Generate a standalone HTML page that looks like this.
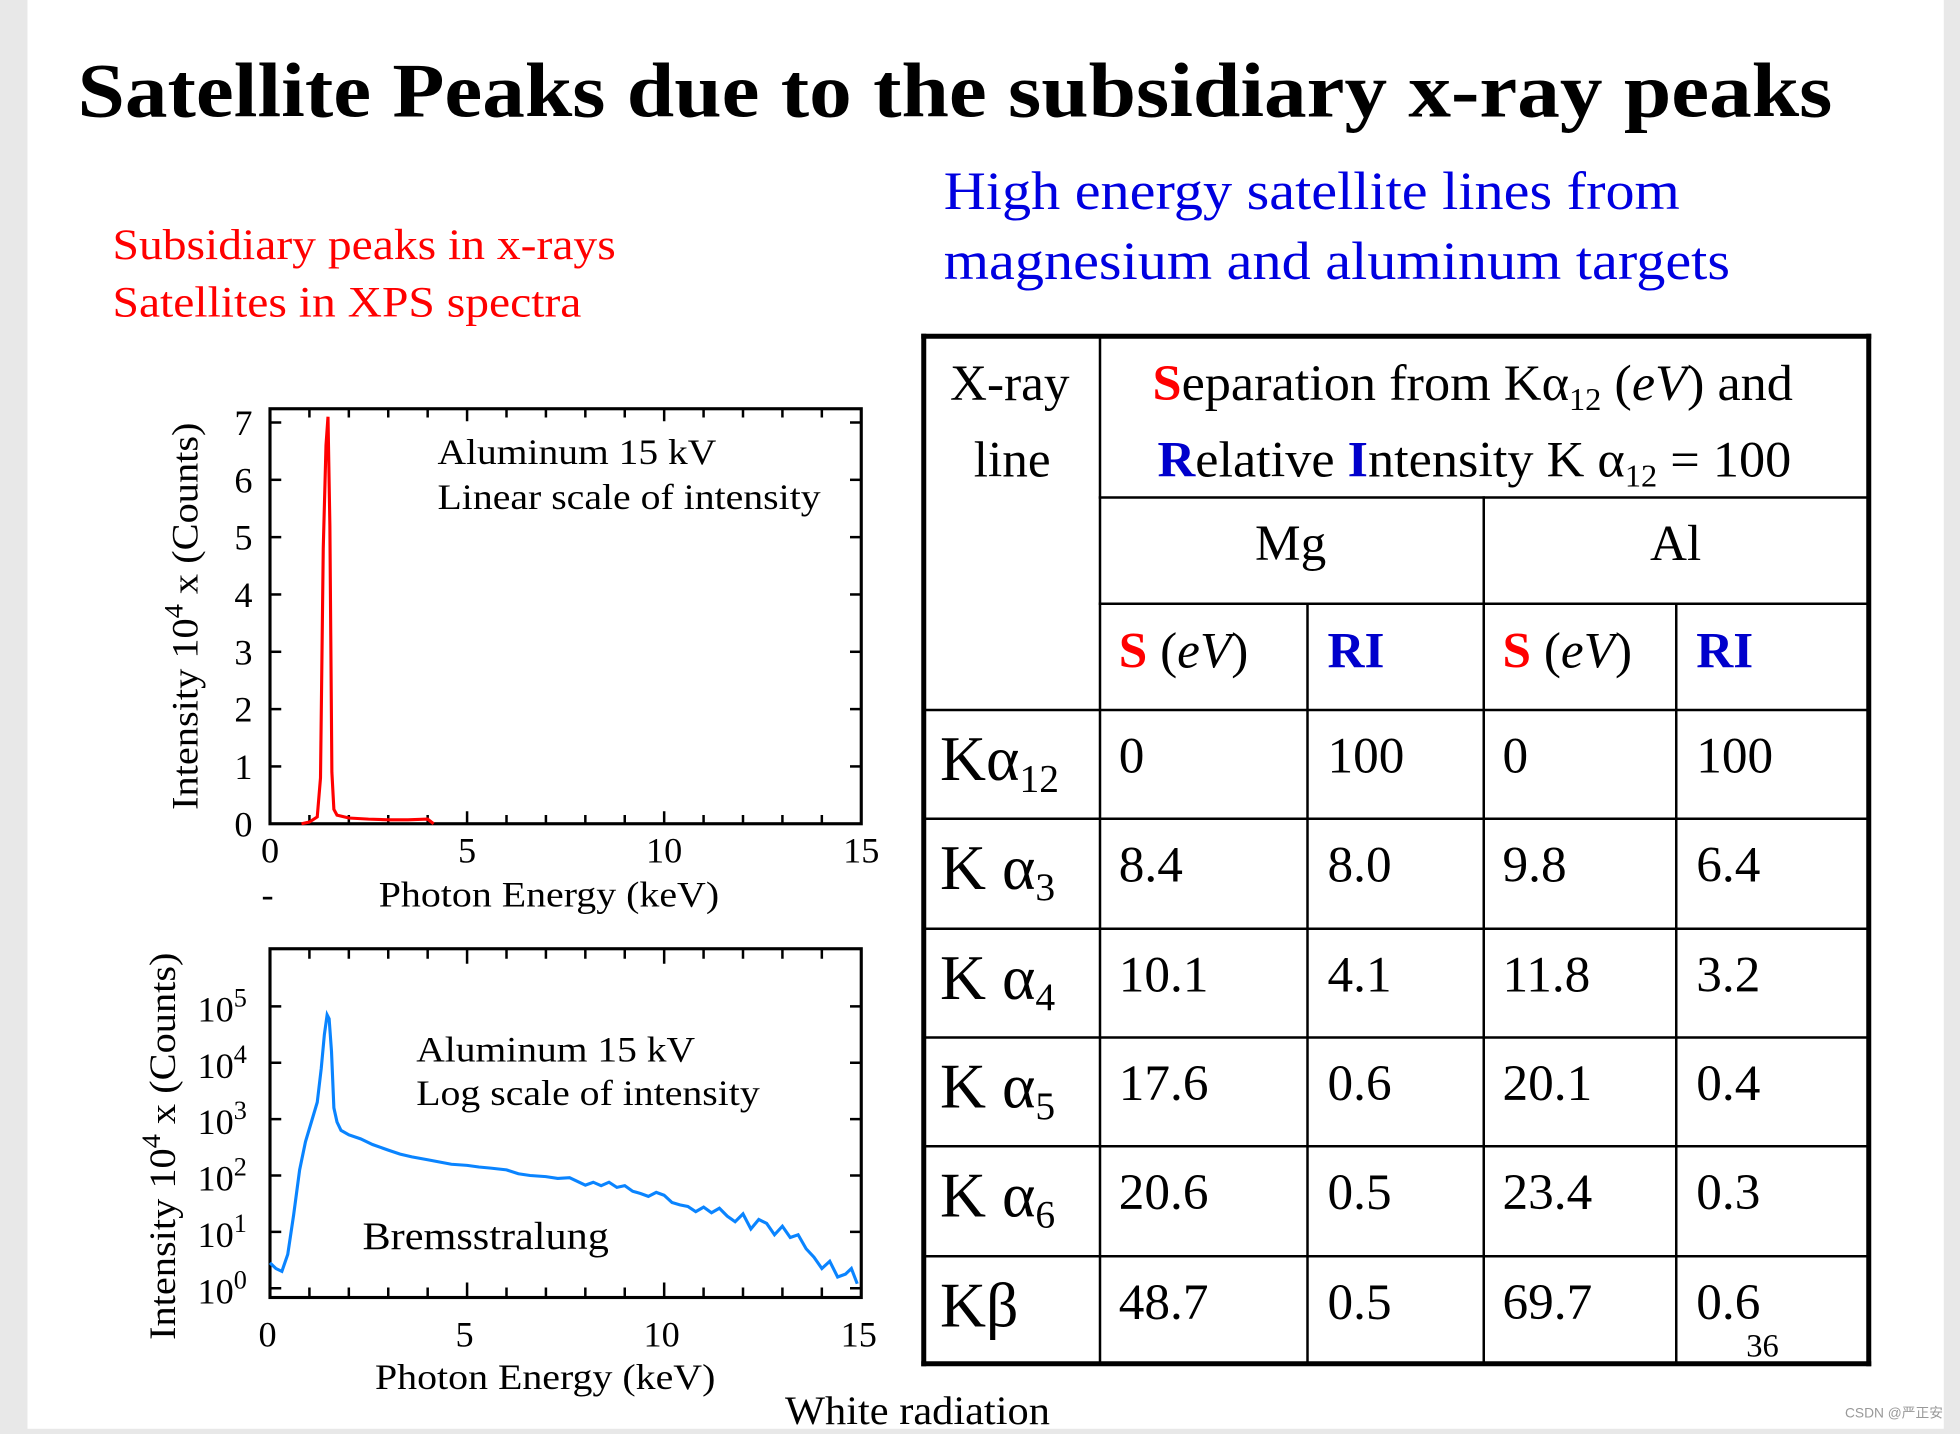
<!DOCTYPE html>
<html><head><meta charset="utf-8">
<style>
html,body{margin:0;padding:0;}
body{width:1960px;height:1429px;overflow:hidden;background:#e8e8e8;}
#stage{position:absolute;left:0;top:0;width:1568px;height:1143px;transform:scale(1.25);transform-origin:0 0;font-family:"Liberation Serif","Noto Serif CJK SC",serif;}
#slide{position:absolute;left:22px;top:0;width:1533px;height:1143px;background:#fff;}
.t{position:absolute;white-space:nowrap;transform-origin:0 0;}
.cell{position:absolute;font-size:41px;color:#000;white-space:nowrap;line-height:48px;}
.hl{position:absolute;background:#000;}
sub{font-size:0.62em;position:relative;top:0.3em;vertical-align:baseline;line-height:0;}
</style></head>
<body>
<div id="stage">
<div id="slide"></div>
<div class="t" style="left:62px;top:38px;font-size:62px;font-weight:bold;transform:scaleX(1.10);">Satellite Peaks due to the subsidiary x-ray peaks</div>
<div class="t" style="left:90px;top:173px;font-size:35px;color:#f00;line-height:46px;transform:scaleX(1.087);">Subsidiary peaks in x-rays<br>Satellites in XPS spectra</div>
<div class="t" style="left:755px;top:126px;font-size:43px;color:#0000e0;line-height:56px;transform:scaleX(1.083);">High energy satellite lines from<br>magnesium and aluminum targets</div>

<svg id="charts" width="1568" height="1143" style="position:absolute;left:0;top:0;" font-family="Liberation Serif, serif"></svg>

<div id="table" style="position:absolute;left:0;top:0;width:1568px;height:1143px;">
<div class="hl" style="left:737px;top:267px;width:760px;height:4px"></div>
<div class="hl" style="left:737px;top:1089px;width:760px;height:4px"></div>
<div class="hl" style="left:737px;top:267px;width:4px;height:826px"></div>
<div class="hl" style="left:1493px;top:267px;width:4px;height:826px"></div>
<div class="hl" style="left:879px;top:269px;width:2px;height:822px"></div>
<div class="hl" style="left:1186px;top:397px;width:2px;height:694px"></div>
<div class="hl" style="left:1045px;top:482px;width:2px;height:609px"></div>
<div class="hl" style="left:1340px;top:482px;width:2px;height:609px"></div>
<div class="hl" style="left:879px;top:397px;width:616px;height:2px"></div>
<div class="hl" style="left:879px;top:482px;width:616px;height:2px"></div>
<div class="hl" style="left:739px;top:567px;width:756px;height:2px"></div>
<div class="hl" style="left:739px;top:654px;width:756px;height:2px"></div>
<div class="hl" style="left:739px;top:742px;width:756px;height:2px"></div>
<div class="hl" style="left:739px;top:829px;width:756px;height:2px"></div>
<div class="hl" style="left:739px;top:916px;width:756px;height:2px"></div>
<div class="hl" style="left:739px;top:1004px;width:756px;height:2px"></div>
<div class="cell" style="left:760px;top:282px;">X-ray</div>
<div class="cell" style="left:779px;top:343px;">line</div>
<div class="cell" style="left:922px;top:282px;transform:scaleX(1.02);transform-origin:0 0;"><b style="color:#f00">S</b>eparation from Kα<sub>12</sub> (<i>eV</i>) and</div>
<div class="cell" style="left:926px;top:343px;transform:scaleX(1.02);transform-origin:0 0;"><b style="color:#00c">R</b>elative <b style="color:#00c">I</b>ntensity K α<sub>12</sub> = 100</div>
<div class="cell" style="left:1004px;top:410px;">Mg</div>
<div class="cell" style="left:1320px;top:410px;">Al</div>
<div class="cell" style="left:895px;top:496px;"><b style="color:#f00">S</b> (<i>eV</i>)</div>
<div class="cell" style="left:1062px;top:496px;color:#00c;font-weight:bold;">RI</div>
<div class="cell" style="left:1202px;top:496px;"><b style="color:#f00">S</b> (<i>eV</i>)</div>
<div class="cell" style="left:1357px;top:496px;color:#00c;font-weight:bold;">RI</div>
</div>
<div class="t" style="left:1397px;top:1062px;font-size:26px;">36</div>
<div class="t" style="left:628px;top:1110px;font-size:32px;transform:scaleX(1.06);">White radiation</div>
<div class="t" style="left:1476px;top:1122px;font-size:11px;color:#999;font-family:'Liberation Sans','Noto Sans CJK SC',sans-serif;">CSDN @严正安</div>
</div>

<script>
// ---- table data ----
const lineNames = ['Kα<sub>12</sub>','K α<sub>3</sub>','K α<sub>4</sub>','K α<sub>5</sub>','K α<sub>6</sub>','Kβ'];
const mgS = ['0','8.4','10.1','17.6','20.6','48.7'];
const mgRI = ['100','8.0','4.1','0.6','0.5','0.5'];
const alS = ['0','9.8','11.8','20.1','23.4','69.7'];
const alRI = ['100','6.4','3.2','0.4','0.3','0.6'];
// ---- linear chart data ----
const linE = [0.8,1.0,1.2,1.28,1.35,1.42,1.47,1.52,1.57,1.62,1.7,2.0,2.5,3.0,3.5,4.0,4.15];
const linI = [0.0,0.03,0.12,0.8,4.8,6.6,7.1,5.2,0.9,0.25,0.15,0.1,0.08,0.07,0.07,0.08,0.0];
const linXTicks = [0,5,10,15];
const linYTicks = [0,1,2,3,4,5,6,7];
// ---- log chart data ----
const logE = [0.0,0.15,0.3,0.45,0.6,0.75,0.9,1.05,1.2,1.3,1.38,1.45,1.5,1.56,1.62,1.7,1.8,2.0,2.3,2.6,3.0,3.3,3.6,4.0,4.3,4.6,5.0,5.3,5.6,6.0,6.3,6.6,7.0,7.3,7.6,8.0,8.2,8.4,8.6,8.8,9.0,9.2,9.4,9.6,9.8,10.0,10.2,10.4,10.6,10.8,11.0,11.2,11.4,11.6,11.8,12.0,12.2,12.4,12.6,12.8,13.0,13.2,13.4,13.6,13.8,14.0,14.2,14.4,14.6,14.75,14.9];
const logI = [0.45,0.35,0.3,0.6,1.3,2.1,2.6,2.95,3.3,3.9,4.5,4.85,4.78,4.2,3.2,2.95,2.8,2.72,2.65,2.55,2.45,2.38,2.33,2.28,2.24,2.2,2.18,2.15,2.13,2.1,2.03,2.0,1.98,1.95,1.96,1.83,1.88,1.82,1.88,1.79,1.82,1.72,1.68,1.63,1.7,1.65,1.52,1.48,1.45,1.36,1.44,1.34,1.42,1.28,1.18,1.32,1.05,1.22,1.15,0.95,1.1,0.9,0.95,0.7,0.55,0.35,0.48,0.2,0.25,0.35,0.08];
const logXTicks = [0,5,10,15];
const logYTicks = [0,1,2,3,4,5];

// table rows
const tbl = document.getElementById('table');
const rowTops = [568,655,743,830,917,1005];
const cols = [[lineNames,752],[mgS,895],[mgRI,1062],[alS,1202],[alRI,1357]];
const colNames = ['line-name','mg-s','mg-ri','al-s','al-ri'];
rowTops.forEach((top,r)=>{
  cols.forEach(([arr,x],c)=>{
    const d=document.createElement('div');
    d.className='cell';
    
    
    if(c===0){d.style.fontSize='51px';d.style.top=(top+16)+'px';}
    else d.style.top=(top+12)+'px';
    d.style.left=x+'px';
    d.innerHTML=arr[r];
    tbl.appendChild(d);
  });
});

const NS='http://www.w3.org/2000/svg';
const svg=document.getElementById('charts');
function el(tag,attrs,parent){const e=document.createElementNS(NS,tag);for(const k in attrs)e.setAttribute(k,attrs[k]);(parent||svg).appendChild(e);return e;}
function stretch(t,f){const l=t.getComputedTextLength();t.setAttribute('textLength',(l*f).toFixed(1));t.setAttribute('lengthAdjust','spacingAndGlyphs');}

// ---- linear chart ----
const L={x0:216,x1:689,y0:659,y1:327};
const lx=v=>L.x0+(v/15)*(L.x1-L.x0);
const ly=v=>L.y0-(v/7)*(659-338);
const g1=el('g',{});


const fr1=el('rect',{x:L.x0,y:L.y1,width:L.x1-L.x0,height:L.y0-L.y1,fill:'none',stroke:'#000','stroke-width':2.5},g1);


for(let v=0;v<=15;v++){
  const len=v%5===0?10:7;
  el('line',{x1:lx(v),x2:lx(v),y1:L.y0,y2:L.y0-len,stroke:'#000','stroke-width':2},g1);
  el('line',{x1:lx(v),x2:lx(v),y1:L.y1,y2:L.y1+len,stroke:'#000','stroke-width':2},g1);
}
linYTicks.forEach(v=>{
  el('line',{x1:L.x0,x2:L.x0+9,y1:ly(v),y2:ly(v),stroke:'#000','stroke-width':2},g1);
  el('line',{x1:L.x1,x2:L.x1-9,y1:ly(v),y2:ly(v),stroke:'#000','stroke-width':2},g1);
  const t=el('text',{x:202,y:ly(v)+10,'font-size':29,'text-anchor':'end'},g1);
  
  
  t.textContent=v;
});
linXTicks.forEach(v=>{
  const t=el('text',{x:lx(v),y:690,'font-size':29,'text-anchor':'middle'},g1);
  
  
  t.textContent=v;
});
const p1=el('path',{d:linE.map((e,i)=>(i?'L':'M')+lx(e).toFixed(1)+' '+ly(linI[i]).toFixed(1)).join(''),fill:'none',stroke:'#ff0000','stroke-width':2.5},g1);


let t1=el('text',{x:350,y:371,'font-size':29},g1);t1.textContent='Aluminum 15 kV';stretch(t1,1.09);


t1=el('text',{x:350,y:407,'font-size':29},g1);t1.textContent='Linear scale of intensity';stretch(t1,1.097);


t1=el('text',{x:303,y:725,'font-size':29},g1);t1.textContent='Photon Energy (keV)';stretch(t1,1.1);


t1=el('text',{x:214,y:725,'font-size':29,'text-anchor':'middle'},g1);t1.textContent='-';


t1=el('text',{transform:'translate(158,648) rotate(-90)','font-size':30,textLength:310,lengthAdjust:'spacingAndGlyphs'},g1);
t1.innerHTML='Intensity 10<tspan dy="-12" font-size="21">4</tspan><tspan dy="12"> x (Counts)</tspan>';



// ---- log chart ----
const G={x0:216,x1:689,y0:1038,y1:759};
const gx=v=>G.x0+(v/15)*(G.x1-G.x0);
const gy=v=>1030.6-v*45.1;
const g2=el('g',{});


const fr2=el('rect',{x:G.x0,y:G.y1,width:G.x1-G.x0,height:G.y0-G.y1,fill:'none',stroke:'#000','stroke-width':2.5},g2);


for(let v=0;v<=15;v++){
  const len=v%5===0?12:8;
  el('line',{x1:gx(v),x2:gx(v),y1:G.y0,y2:G.y0-len,stroke:'#000','stroke-width':2},g2);
  el('line',{x1:gx(v),x2:gx(v),y1:G.y1,y2:G.y1+len,stroke:'#000','stroke-width':2},g2);
}
logYTicks.forEach(v=>{
  el('line',{x1:G.x0,x2:G.x0+9,y1:gy(v),y2:gy(v),stroke:'#000','stroke-width':2},g2);
  el('line',{x1:G.x1,x2:G.x1-9,y1:gy(v),y2:gy(v),stroke:'#000','stroke-width':2},g2);
  const t=el('text',{x:158,y:gy(v)+12,'font-size':29},g2);
  t.innerHTML='10<tspan dy="-12" font-size="21">'+v+'</tspan>';
  
  
});
logXTicks.forEach(v=>{
  const t=el('text',{x:gx(v)-2,y:1077,'font-size':29,'text-anchor':'middle'},g2);
  
  
  t.textContent=v;
});
const p2=el('path',{d:logE.map((e,i)=>(i?'L':'M')+gx(e).toFixed(1)+' '+gy(logI[i]).toFixed(1)).join(''),fill:'none',stroke:'#0a84ff','stroke-width':2.5},g2);


let t2=el('text',{x:333,y:849,'font-size':29},g2);t2.textContent='Aluminum 15 kV';stretch(t2,1.09);


t2=el('text',{x:333,y:884,'font-size':29},g2);t2.textContent='Log scale of intensity';stretch(t2,1.097);


t2=el('text',{x:290,y:999,'font-size':31},g2);t2.textContent='Bremsstralung';stretch(t2,1.09);


t2=el('text',{x:300,y:1111,'font-size':29},g2);t2.textContent='Photon Energy (keV)';stretch(t2,1.1);


t2=el('text',{transform:'translate(140,1072) rotate(-90)','font-size':30,textLength:310,lengthAdjust:'spacingAndGlyphs'},g2);
t2.innerHTML='Intensity 10<tspan dy="-12" font-size="21">4</tspan><tspan dy="12"> x (Counts)</tspan>';


</script>
</body></html>
